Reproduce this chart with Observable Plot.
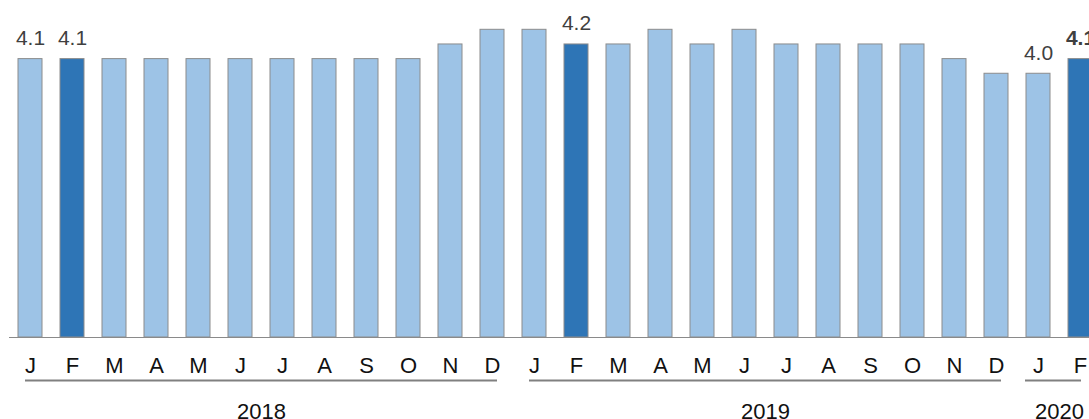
<!DOCTYPE html>
<html>
<head>
<meta charset="utf-8">
<script src="https://cdn.jsdelivr.net/npm/d3@7"></script>
<script src="https://cdn.jsdelivr.net/npm/@observablehq/plot@0.6"></script>
<style>
  html, body { margin: 0; padding: 0; background: #fff; overflow: hidden; }
</style>
</head>
<body>
<div id="chart"></div>
<script>
// ---- data ----
const monthLetters = ["J","F","M","A","M","J","J","A","S","O","N","D",
                      "J","F","M","A","M","J","J","A","S","O","N","D",
                      "J","F"];
const barYears = [2018,2018,2018,2018,2018,2018,2018,2018,2018,2018,2018,2018,
                  2019,2019,2019,2019,2019,2019,2019,2019,2019,2019,2019,2019,
                  2020,2020];
const values = [4.1,4.1,4.1,4.1,4.1,4.1,4.1,4.1,4.1,4.1,4.2,4.3,
                4.3,4.2,4.2,4.3,4.2,4.3,4.2,4.2,4.2,4.2,4.1,4.0,
                4.0,4.1];
const highlightedBars = [1, 13, 25];      // February bars
const labelledBars = [0, 1, 13, 24, 25];  // bars with a value label
const boldLabelBars = [25];
const yearLabels = ["2018", "2019", "2020"];
const yDomain = [2.2, 4.5];

// ---- build table ----
const data = values.map((v, i) => ({
  key: `${barYears[i]}-${i}`,
  letter: monthLetters[i],
  year: String(barYears[i]),
  value: v,
  highlight: highlightedBars.includes(i),
  labelled: labelledBars.includes(i),
  bold: boldLabelBars.includes(i)
}));
const keys = data.map(d => d.key);
const spans = yearLabels.map(y => {
  const rows = data.filter(d => d.year === y);
  return {year: y, start: rows[0].key, end: rows[rows.length - 1].key,
          mid: rows[Math.floor((rows.length - 1) / 2)].key, count: rows.length};
});
const yBase = yDomain[0];

const light = "#9DC3E6", dark = "#2E75B6", edge = "#8c8c8c";
const font = "'Liberation Sans', Arial, sans-serif";

const chart = Plot.plot({
  width: 1111,
  height: 419,
  marginTop: 0,
  marginBottom: 82,
  marginLeft: 9,
  marginRight: 0,
  style: {fontFamily: font, maxWidth: "none", overflow: "visible", background: "#fff"},
  x: {domain: keys, range: [0, 1111], padding: 0.42, axis: null},
  y: {domain: yDomain, axis: null},
  marks: [
    Plot.barY(data, {filter: d => !d.highlight, x: "key", y1: yBase, y2: "value",
      fill: light, stroke: edge, strokeWidth: 1}),
    Plot.barY(data, {filter: d => d.highlight, x: "key", y1: yBase, y2: "value",
      fill: dark, stroke: edge, strokeWidth: 1}),
    Plot.ruleY([yBase], {stroke: "#8a8a8a", strokeWidth: 1}),
    Plot.text(data, {filter: d => d.labelled && !d.bold, x: "key", y: "value",
      text: d => d.value.toFixed(1), lineAnchor: "bottom", dy: -14,
      fontSize: 21, fill: "#404040"}),
    Plot.text(data, {filter: d => d.bold, x: "key", y: "value",
      text: d => d.value.toFixed(1), lineAnchor: "bottom", dy: -14,
      fontSize: 21, fontWeight: "bold", fill: "#404040"}),
    Plot.text(data, {x: "key", text: "letter", frameAnchor: "bottom",
      lineAnchor: "bottom", dy: 35, fontSize: 22, fill: "#111"}),
    Plot.ruleY(spans.filter(s => s.count === 12), {x1: "start", x2: "end", y: yBase, dy: 43,
      stroke: "#808080", strokeWidth: 2, insetLeft: 7, insetRight: 7}),
    Plot.ruleY(spans.filter(s => s.count !== 12), {x1: "start", x2: "end", y: yBase, dy: 43,
      stroke: "#808080", strokeWidth: 2, insetLeft: -1, insetRight: 11}),
    Plot.text(spans, {x: "mid", text: "year", frameAnchor: "bottom",
      lineAnchor: "bottom", dy: 81, dx: 21, fontSize: 22, fill: "#111"})
  ]
});
document.getElementById("chart").appendChild(chart);
</script>
</body>
</html>
